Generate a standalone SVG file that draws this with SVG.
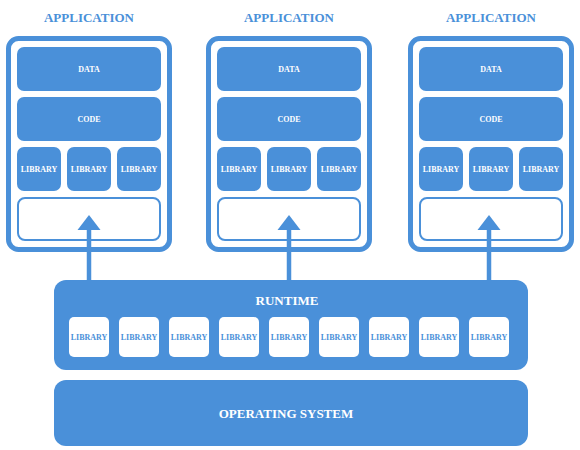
<svg xmlns="http://www.w3.org/2000/svg" width="580" height="450" viewBox="0 0 580 450">
<defs>
<style>
.frame{fill:#fff;stroke:#4a90d9;stroke-width:5}
.blk{fill:#4a90d9}
.slot{fill:#fff;stroke:#4a90d9;stroke-width:2}
.wl{fill:#fff}
.t{font-family:"Liberation Serif",serif;font-weight:bold;text-anchor:middle;dominant-baseline:central}
.title{font-size:13px;fill:#4a90d9}
.small{font-size:8px;fill:#fff}
.smallb{font-size:8px;fill:#4a90d9}
.big{font-size:13px;fill:#fff}
.shaft{stroke:#4a90d9;stroke-width:4.5}
.head{fill:#4a90d9}
</style>
<g id="app-template">
<rect class="frame" x="8.5" y="38.5" width="161" height="211" rx="10"/>
<rect class="blk" x="17" y="47" width="144" height="44" rx="7"/>
<text class="t small" x="89" y="69">DATA</text>
<rect class="blk" x="17" y="97" width="144" height="44" rx="7"/>
<text class="t small" x="89" y="119">CODE</text>
<rect class="blk" x="17" y="147" width="44" height="44" rx="7"/>
<text class="t small" x="39" y="169">LIBRARY</text>
<rect class="blk" x="67" y="147" width="44" height="44" rx="7"/>
<text class="t small" x="89" y="169">LIBRARY</text>
<rect class="blk" x="117" y="147" width="44" height="44" rx="7"/>
<text class="t small" x="139" y="169">LIBRARY</text>
<rect class="slot" x="18" y="198" width="142" height="42" rx="7"/>
</g>
</defs>
<g id="app1">
<text class="t title" x="89" y="17">APPLICATION</text>
<use href="#app-template"/>
</g>
<g id="app2">
<text class="t title" x="289" y="17">APPLICATION</text>
<use href="#app-template" x="200"/>
</g>
<g id="app3">
<text class="t title" x="491" y="17">APPLICATION</text>
<use href="#app-template" x="402"/>
</g>
<g id="runtime">
<rect class="blk" x="54" y="280" width="474" height="90" rx="12"/>
<text class="t big" x="287" y="300">RUNTIME</text>
<rect class="wl" x="69" y="317" width="40" height="40" rx="5"/>
<text class="t smallb" x="89" y="337">LIBRARY</text>
<rect class="wl" x="119" y="317" width="40" height="40" rx="5"/>
<text class="t smallb" x="139" y="337">LIBRARY</text>
<rect class="wl" x="169" y="317" width="40" height="40" rx="5"/>
<text class="t smallb" x="189" y="337">LIBRARY</text>
<rect class="wl" x="219" y="317" width="40" height="40" rx="5"/>
<text class="t smallb" x="239" y="337">LIBRARY</text>
<rect class="wl" x="269" y="317" width="40" height="40" rx="5"/>
<text class="t smallb" x="289" y="337">LIBRARY</text>
<rect class="wl" x="319" y="317" width="40" height="40" rx="5"/>
<text class="t smallb" x="339" y="337">LIBRARY</text>
<rect class="wl" x="369" y="317" width="40" height="40" rx="5"/>
<text class="t smallb" x="389" y="337">LIBRARY</text>
<rect class="wl" x="419" y="317" width="40" height="40" rx="5"/>
<text class="t smallb" x="439" y="337">LIBRARY</text>
<rect class="wl" x="469" y="317" width="40" height="40" rx="5"/>
<text class="t smallb" x="489" y="337">LIBRARY</text>
</g>
<g id="os">
<rect class="blk" x="54" y="380" width="474" height="66" rx="12"/>
<text class="t big" x="286" y="413">OPERATING SYSTEM</text>
</g>
<g id="connectors">
<line class="shaft" x1="89" y1="281" x2="89" y2="228"/>
<polygon class="head" points="77.5,230 100.5,230 89,215"/>
<line class="shaft" x1="289" y1="281" x2="289" y2="228"/>
<polygon class="head" points="277.5,230 300.5,230 289,215"/>
<line class="shaft" x1="489" y1="281" x2="489" y2="228"/>
<polygon class="head" points="477.5,230 500.5,230 489,215"/>
</g>
</svg>
